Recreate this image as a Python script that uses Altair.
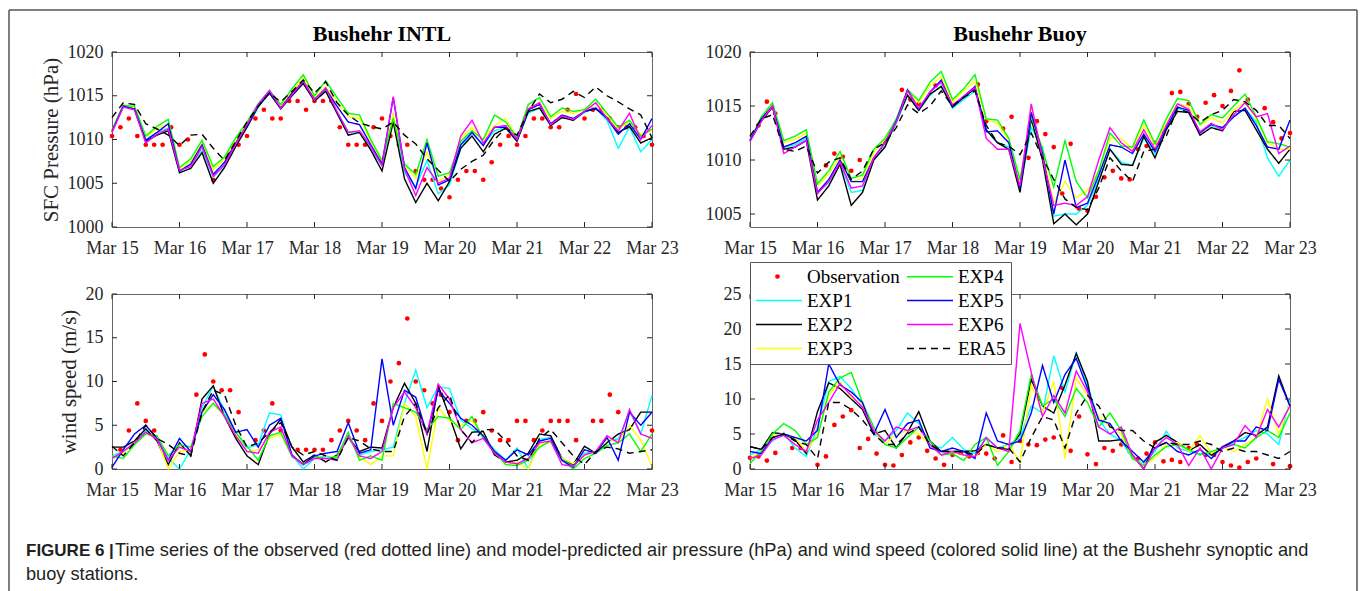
import json
import altair as alt
import pandas as pd

SERIF = "Liberation Serif"
SANS = "Liberation Sans"
AXIS_COLOR = "#262626"

# ---------------- labels / ticks ----------------
DAY_LABELS = ["Mar 15", "Mar 16", "Mar 17", "Mar 18", "Mar 19", "Mar 20", "Mar 21", "Mar 22", "Mar 23"]
DAY_TICKS = [0, 1, 2, 3, 4, 5, 6, 7, 8]
INTL_P_TICKS = [1000, 1005, 1010, 1015, 1020]
BUOY_P_TICKS = [1005, 1010, 1015, 1020]
INTL_W_TICKS = [0, 5, 10, 15, 20]
BUOY_W_TICKS = [0, 5, 10, 15, 20, 25]
INTL_P_DOMAIN = [1000, 1020]
BUOY_P_DOMAIN = [1003.8, 1020]
INTL_W_DOMAIN = [0, 20]
BUOY_W_DOMAIN = [0, 25]
MODEL_STEP_H = 4   # model output every 4 h from Mar 15 00:00
OBS_STEP_H = 3     # observations every 3 h from Mar 15 00:00

SERIES = ["EXP1", "EXP2", "EXP3", "EXP4", "EXP5", "EXP6", "ERA5"]
SERIES_COLORS = ["#00ffff", "#000000", "#ffff00", "#00ff00", "#0000ff", "#ff00ff", "#000000"]
OBS_NAME = "Observation"
OBS_COLOR = "#ff0000"
LEGEND_ORDER = ["Observation", "EXP1", "EXP2", "EXP3", "EXP4", "EXP5", "EXP6", "ERA5"]
LEGEND_DASH = {"ERA5": [7, 5]}

TITLE_LEFT = "Bushehr INTL"
TITLE_RIGHT = "Bushehr Buoy"
YTITLE_TOP = "SFC Pressure (hPa)"
YTITLE_BOTTOM = "wind speed (m/s)"
CAPTION_PREFIX = "FIGURE 6 |"
CAPTION_LINE1 = ("Time series of the observed (red dotted line) and model-predicted air pressure (hPa) "
                 "and wind speed (colored solid line) at the Bushehr synoptic and")
CAPTION_LINE2 = "buoy stations."

# ---------------- Bushehr INTL pressure (hPa) ----------------
INTL_P_EXP1 = [1011.0, 1013.7, 1013.5, 1010.0, 1010.8, 1011.3,
               1006.4, 1007.0, 1008.8, 1005.7, 1007.0, 1009.4,
               1011.4, 1013.7, 1015.3, 1013.6, 1015.1, 1016.4,
               1014.5, 1015.6, 1013.2, 1010.9, 1010.8, 1009.0,
               1007.0, 1012.6, 1006.2, 1004.6, 1007.6, 1003.8,
               1004.8, 1009.0, 1010.8, 1009.4, 1011.0, 1011.4,
               1009.9, 1013.0, 1013.6, 1011.6, 1012.6, 1012.2,
               1013.1, 1013.6, 1012.2, 1009.0, 1011.4, 1008.6,
               1010.0]
INTL_P_EXP2 = [1011.0, 1013.9, 1013.4, 1009.8, 1010.5, 1011.0,
               1006.2, 1006.7, 1008.5, 1005.0, 1006.8, 1009.2,
               1011.4, 1013.8, 1015.3, 1013.5, 1015.0, 1016.4,
               1014.4, 1015.5, 1013.0, 1010.5, 1010.8, 1008.8,
               1006.4, 1012.0, 1005.5, 1002.8, 1005.0, 1003.0,
               1005.2, 1009.0, 1010.4, 1008.6, 1010.6, 1011.3,
               1009.8, 1013.2, 1013.6, 1011.6, 1012.5, 1012.2,
               1013.2, 1013.5, 1012.5, 1010.8, 1011.5, 1009.6,
               1010.2]
INTL_P_EXP3 = [1011.0, 1013.8, 1013.7, 1010.3, 1011.2, 1011.8,
               1006.7, 1007.5, 1009.5, 1006.5, 1007.8, 1010.0,
               1011.8, 1014.0, 1015.5, 1013.9, 1015.5, 1017.0,
               1014.8, 1016.0, 1014.3, 1012.6, 1012.4, 1009.8,
               1007.5, 1013.0, 1007.0, 1005.6, 1008.5, 1005.2,
               1006.0, 1010.2, 1011.4, 1010.0, 1011.6, 1012.4,
               1010.2, 1013.6, 1014.2, 1012.4, 1013.2, 1013.0,
               1013.4, 1014.2, 1012.8, 1011.2, 1012.0, 1010.6,
               1011.0]
INTL_P_EXP4 = [1011.0, 1013.9, 1013.8, 1010.4, 1011.5, 1012.3,
               1006.8, 1007.8, 1009.9, 1006.9, 1008.0, 1010.2,
               1012.0, 1014.1, 1015.6, 1014.0, 1015.8, 1017.4,
               1015.0, 1016.7, 1014.8, 1013.0, 1012.8, 1010.0,
               1007.6, 1012.4, 1007.2, 1006.0, 1010.0, 1005.8,
               1006.2, 1009.8, 1011.0, 1010.0, 1012.8, 1012.0,
               1010.2, 1014.0, 1014.8, 1012.6, 1013.6, 1013.2,
               1013.4, 1014.6, 1013.0, 1011.4, 1012.2, 1010.4,
               1011.2]
INTL_P_EXP5 = [1010.9, 1013.8, 1013.5, 1009.9, 1010.8, 1011.8,
               1006.4, 1007.2, 1009.4, 1006.0, 1007.4, 1009.6,
               1011.6, 1013.9, 1015.4, 1013.6, 1015.3, 1016.6,
               1014.6, 1015.8, 1013.8, 1012.0, 1011.7, 1009.4,
               1007.2, 1014.8, 1006.8, 1004.4, 1009.6, 1004.8,
               1005.4, 1009.4, 1010.8, 1009.3, 1011.4, 1011.4,
               1010.0, 1013.4, 1014.0, 1011.8, 1012.8, 1012.4,
               1013.2, 1013.6, 1012.4, 1010.6, 1011.8, 1010.0,
               1012.4]
INTL_P_EXP6 = [1010.8, 1013.7, 1013.4, 1009.6, 1010.6, 1011.2,
               1006.5, 1006.9, 1009.2, 1005.8, 1007.1, 1009.5,
               1011.7, 1014.0, 1015.6, 1013.6, 1015.1, 1016.7,
               1014.5, 1015.9, 1013.2, 1010.8, 1011.0, 1009.2,
               1007.0, 1014.9, 1006.6, 1003.6, 1006.8, 1005.0,
               1005.6, 1010.4, 1012.2, 1009.6, 1011.4, 1011.6,
               1010.0, 1013.5, 1014.2, 1011.7, 1012.7, 1012.3,
               1013.2, 1014.2, 1012.4, 1011.0, 1013.0, 1010.0,
               1011.6]
INTL_P_ERA5 = [1012.5, 1014.2, 1014.0, 1011.8, 1011.2, 1010.5,
               1009.3, 1010.5, 1010.6, 1009.0, 1007.6, 1009.8,
               1012.0, 1013.8, 1015.3, 1014.3, 1015.5, 1016.8,
               1015.3, 1016.6, 1014.2, 1012.8, 1011.9, 1011.5,
               1011.2, 1012.0, 1010.5, 1009.5, 1007.8, 1006.5,
               1005.2, 1006.6, 1007.5, 1008.2, 1010.0, 1011.3,
               1010.5, 1013.2, 1015.2, 1014.2, 1014.6, 1015.5,
               1014.8, 1016.0, 1015.0, 1014.3, 1013.5, 1012.8,
               1010.2]
INTL_P_OBS = [1010.4, 1011.4, 1012.4, 1010.4, 1009.4, 1009.4, 1009.4, 1011.4,
              1009.4, 1010.0, None, 1008.4, 1005.4, None, 1008.4, 1009.4,
              1010.4, 1012.4, 1013.4, 1012.4, 1012.4, 1014.4, 1014.4, 1013.4,
              1014.4, 1014.4, 1014.4, 1011.4, 1009.4, 1009.4, 1009.4, 1011.4,
              1012.4, 1010.4, 1009.4, 1009.4, 1006.4, 1005.4, 1005.4, 1004.4,
              1003.4, 1005.4, 1006.4, 1006.4, 1005.4, 1007.4, 1009.4, 1010.4,
              1009.4, 1010.4, 1012.4, 1012.4, 1011.4, 1011.4, 1013.4, 1015.2,
              1012.4, 1013.4, 1013.4, 1012.4, 1011.4, 1011.4, 1011.4, 1010.4,
              1009.4]

# ---------------- Bushehr Buoy pressure (hPa) ----------------
BUOY_P_EXP1 = [1011.8, 1013.6, 1015.0, 1011.2, 1011.4, 1012.0,
               1007.0, 1007.9, 1009.7, 1007.0, 1007.2, 1010.0,
               1011.3, 1013.4, 1016.0, 1014.6, 1016.0, 1016.9,
               1014.8, 1015.6, 1016.4, 1012.8, 1011.6, 1011.2,
               1007.4, 1013.0, 1011.2, 1004.8, 1005.0, 1005.0,
               1005.8, 1008.2, 1011.0, 1009.8, 1009.5, 1012.0,
               1010.6, 1012.9, 1014.8, 1014.4, 1012.6, 1013.2,
               1012.8, 1014.0, 1014.8, 1013.5, 1010.2, 1008.5,
               1010.0]
BUOY_P_EXP2 = [1011.8, 1013.6, 1014.9, 1011.0, 1011.2, 1011.8,
               1006.3, 1007.6, 1009.6, 1005.8, 1007.0, 1010.0,
               1011.2, 1013.6, 1016.0, 1014.6, 1016.1, 1016.8,
               1014.9, 1015.8, 1016.6, 1012.8, 1011.6, 1011.0,
               1007.0, 1013.8, 1010.0, 1004.1, 1005.0, 1004.0,
               1005.0, 1008.0, 1011.0, 1009.6, 1009.5, 1012.2,
               1010.2, 1012.8, 1014.5, 1014.4, 1012.3, 1013.0,
               1012.7, 1014.5, 1014.6, 1012.8, 1011.0, 1009.7,
               1011.0]
BUOY_P_EXP3 = [1011.8, 1013.9, 1015.1, 1011.6, 1011.9, 1012.5,
               1007.6, 1008.7, 1010.3, 1008.0, 1008.3, 1010.7,
               1011.9, 1013.7, 1016.4, 1015.3, 1016.9, 1017.7,
               1015.4, 1016.4, 1017.3, 1013.8, 1013.4, 1011.8,
               1008.0, 1014.7, 1010.8, 1006.0, 1008.0, 1006.5,
               1007.2, 1009.0, 1012.0, 1012.0, 1011.0, 1013.2,
               1011.4, 1013.4, 1015.2, 1015.0, 1013.2, 1013.9,
               1013.4, 1014.6, 1015.4, 1013.8, 1011.6, 1011.0,
               1011.0]
BUOY_P_EXP4 = [1011.8, 1014.0, 1015.3, 1011.8, 1012.2, 1012.8,
               1007.8, 1009.0, 1010.8, 1008.3, 1008.6, 1011.0,
               1012.0, 1013.8, 1016.5, 1015.5, 1017.2, 1018.2,
               1015.6, 1016.6, 1017.9, 1013.8, 1013.7, 1012.0,
               1008.2, 1014.0, 1011.0, 1007.5, 1011.8, 1008.0,
               1006.5, 1009.0, 1012.5, 1011.3, 1011.2, 1013.7,
               1011.5, 1013.8, 1015.7, 1015.5, 1013.3, 1014.2,
               1013.9, 1015.0, 1016.1, 1014.0, 1011.7, 1011.5,
               1011.2]
BUOY_P_EXP5 = [1011.8, 1013.8, 1015.0, 1011.2, 1011.6, 1012.2,
               1007.0, 1008.2, 1010.0, 1008.0, 1008.0, 1010.2,
               1011.6, 1013.6, 1016.5, 1014.7, 1016.3, 1017.4,
               1015.0, 1015.9, 1016.8, 1012.6, 1012.7, 1011.6,
               1007.4, 1014.4, 1010.6, 1005.0, 1010.0, 1005.6,
               1006.0, 1008.6, 1011.4, 1011.2, 1010.6, 1012.4,
               1010.8, 1013.0, 1014.9, 1014.6, 1012.5, 1013.3,
               1013.0, 1014.0, 1014.8, 1013.2, 1011.2, 1011.0,
               1013.7]
BUOY_P_EXP6 = [1011.7, 1013.6, 1015.0, 1010.6, 1011.2, 1011.8,
               1006.9, 1008.0, 1009.8, 1007.4, 1007.6, 1010.2,
               1011.6, 1013.5, 1016.4, 1014.8, 1016.3, 1017.2,
               1015.1, 1015.9, 1016.7, 1012.0, 1011.0, 1011.0,
               1007.6, 1015.2, 1010.2, 1005.8, 1006.0, 1005.8,
               1006.6, 1010.0, 1013.0, 1011.6, 1010.8, 1012.8,
               1011.0, 1013.2, 1015.2, 1014.7, 1012.6, 1013.4,
               1012.8, 1014.2, 1015.3, 1014.0, 1014.3, 1010.6,
               1011.3]
BUOY_P_ERA5 = [1012.2, 1013.8, 1014.2, 1011.0, 1010.8, 1011.3,
               1008.8, 1009.8, 1010.2, 1008.2, 1009.0, 1011.0,
               1011.6, 1013.0, 1015.1, 1014.3, 1015.0, 1016.4,
               1015.0, 1015.8, 1016.4, 1013.2, 1011.6, 1011.3,
               1010.5, 1012.5, 1010.2, 1008.2, 1006.4, 1005.6,
               1005.4, 1007.4, 1010.2, 1009.0, 1008.0, 1010.8,
               1011.0, 1012.2, 1014.8, 1014.4, 1013.5, 1014.2,
               1014.6, 1015.6, 1015.4, 1014.6, 1013.2, 1013.2,
               1012.0]
BUOY_P_OBS = [None, 1013.2, 1015.4, 1014.3, None, None, None, None,
              None, 1009.5, 1010.6, 1010.3, 1009.0, 1010.0, None, None,
              1011.7, None, 1016.5, 1015.6, 1015.2, None, 1016.9, None,
              None, None, None, 1017.0, 1013.6, None, 1012.9, 1014.0,
              None, 1010.2, 1013.6, 1012.4, 1011.2, 1006.9, 1011.5, 1005.5,
              1005.3, 1006.6, 1008.4, 1009.0, 1008.3, 1008.2, 1011.0, 1011.3,
              1011.6, 1012.6, 1016.2, 1016.3, 1015.2, 1014.0, 1015.3, 1016.0,
              1015.0, 1016.4, 1018.3, 1015.6, None, 1014.8, 1013.5, 1012.0,
              1012.5]

# ---------------- Bushehr INTL wind speed (m/s) ----------------
INTL_W_EXP1 = [1.5, 2.0, 3.0, 4.4, 3.4, 1.2,
               0.0, 2.2, 7.0, 9.5, 6.6, 4.0,
               2.4, 2.8, 6.4, 6.2, 1.6, 0.0,
               1.2, 1.5, 1.2, 3.6, 1.6, 2.0,
               2.2, 2.5, 7.5, 11.3, 7.0, 9.4,
               9.2, 5.6, 4.6, 3.8, 2.2, 1.0,
               2.4, 0.0, 3.4, 3.6, 1.2, 0.3,
               1.8, 2.0, 3.4, 3.4, 6.6, 4.0,
               8.4]
INTL_W_EXP2 = [2.5, 2.5, 3.2, 4.6, 3.2, 0.5,
               3.0, 1.5, 8.0, 9.5, 6.0, 3.5,
               1.5, 0.5, 4.0, 5.7, 2.5, 0.8,
               1.6, 0.8, 1.6, 3.6, 2.0, 2.5,
               2.4, 7.0, 9.8, 7.5, 2.0, 9.5,
               6.0, 2.3, 4.2, 4.3, 1.6, 0.8,
               1.0, 1.8, 4.0, 3.8, 1.2, 0.5,
               2.6, 1.8, 3.0, 4.0, 4.5, 6.5,
               6.5]
INTL_W_EXP3 = [1.2, 1.8, 3.0, 4.0, 3.5, 0.0,
               2.0, 2.2, 6.5, 7.5, 6.0, 4.0,
               2.0, 2.2, 3.5, 4.0, 1.5, 0.5,
               1.4, 1.2, 1.4, 3.8, 1.4, 0.5,
               1.5, 1.5, 7.5, 6.0, 0.0, 7.0,
               5.5, 5.0, 5.5, 3.8, 2.0, 0.5,
               0.8, 0.0, 2.8, 3.0, 1.2, 0.6,
               1.6, 2.0, 3.4, 3.2, 5.0, 3.3,
               0.3]
INTL_W_EXP4 = [1.5, 1.2, 2.8, 4.0, 3.8, 1.5,
               2.8, 2.5, 6.0, 7.5, 6.2, 4.2,
               2.6, 1.0, 3.8, 4.2, 1.4, 0.6,
               1.4, 1.2, 1.4, 4.2, 1.0, 1.5,
               1.0, 7.5, 7.0, 6.5, 4.5, 6.0,
               5.8, 4.5, 6.0, 3.5, 2.0, 0.5,
               0.4, 1.0, 2.5, 3.2, 1.0, 0.0,
               1.2, 1.8, 2.7, 3.0, 4.0, 2.0,
               4.0]
INTL_W_EXP5 = [0.2, 2.2, 4.0, 5.0, 3.5, 1.0,
               3.5, 2.0, 6.5, 8.5, 6.8, 4.2,
               4.5, 2.5, 5.0, 5.8, 1.6, 0.5,
               1.5, 1.8, 2.0, 5.3, 1.8, 2.2,
               12.6, 5.0, 9.0, 8.2, 4.0, 9.0,
               7.5, 5.8, 5.0, 3.8, 2.0, 1.0,
               2.2, 1.6, 3.2, 3.5, 1.0, 0.2,
               2.2, 1.8, 3.6, 1.0, 6.5, 5.0,
               6.5]
INTL_W_EXP6 = [1.2, 2.0, 3.0, 4.2, 3.4, 1.0,
               2.5, 2.0, 7.5, 8.0, 6.0, 3.8,
               2.0, 1.8, 4.2, 4.8, 1.5, 0.5,
               1.2, 1.2, 1.0, 3.8, 1.5, 1.2,
               2.0, 7.0, 8.8, 7.0, 4.0, 9.7,
               8.0, 4.5, 3.0, 3.5, 1.8, 0.8,
               0.6, 1.2, 3.0, 3.2, 0.5, 0.3,
               1.6, 2.0, 3.8, 3.0, 6.8, 4.0,
               3.5]
INTL_W_ERA5 = [2.6, 1.5, 3.0, 5.0, 3.5, 2.8,
               1.8, 1.5, 6.5, 9.0, 8.5, 5.0,
               2.5, 3.0, 4.2, 5.3, 2.5, 1.6,
               2.0, 1.5, 1.0, 3.6, 3.2, 2.3,
               2.0, 2.0, 6.0, 7.5, 4.0, 7.0,
               8.5, 4.5, 3.0, 4.5, 4.5, 3.2,
               1.5, 1.0, 3.5, 4.5, 3.0, 1.5,
               0.5, 2.0, 2.5, 2.3, 1.8, 2.0,
               2.2]
INTL_W_OBS = [None, 2.2, 4.4, 7.5, 5.5, 4.4, None, None,
              None, None, 8.5, 13.1, 10.0, 9.0, 9.0, 6.5,
              None, 3.3, 4.4, 7.5, 4.4, None, 2.2, 2.2,
              2.2, 2.2, 3.3, 4.4, 5.5, 4.4, 3.3, 7.5,
              5.5, 10.0, 12.1, 17.2, 10.0, 9.0, 7.5, 8.5,
              6.5, 3.3, 5.5, 5.5, 6.5, 4.4, 3.3, 3.3,
              5.5, 5.5, 3.3, 4.4, 5.5, 5.5, 5.5, 3.3,
              None, 5.5, 5.5, 8.5, 6.5, None, None, None,
              4.4]

# ---------------- Bushehr Buoy wind speed (m/s) ----------------
BUOY_W_EXP1 = [2.0, 2.8, 4.0, 5.2, 3.0, 1.8,
               6.0, 12.5, 13.2, 11.5, 9.0, 5.0,
               4.0, 5.5, 8.0, 6.5, 3.5, 3.0,
               4.5, 2.8, 2.2, 4.5, 3.0, 3.5,
               4.5, 9.0, 8.0, 16.2, 11.0, 16.6,
               12.0, 7.0, 5.0, 4.0, 1.5, 0.8,
               2.5, 5.4, 3.0, 2.5, 2.2, 2.0,
               3.0, 3.8, 4.5, 5.5, 5.0, 3.5,
               10.0]
BUOY_W_EXP2 = [3.2, 2.8, 5.2, 5.0, 4.2, 2.2,
               8.2, 12.3, 11.5, 10.0, 8.5, 5.0,
               5.5, 3.0, 5.2, 8.2, 4.0, 2.5,
               2.5, 2.5, 2.6, 3.5, 3.0, 2.8,
               5.0, 12.8, 9.0, 8.0, 12.0, 16.5,
               12.5, 4.0, 4.0, 4.2, 2.0, 0.0,
               3.8, 4.8, 3.8, 2.6, 3.5, 2.0,
               3.0, 4.0, 5.2, 4.8, 6.0, 13.3,
               9.0]
BUOY_W_EXP3 = [1.5, 2.5, 4.8, 5.0, 4.5, 2.5,
               5.0, 10.5, 12.5, 10.2, 9.2, 5.5,
               3.5, 5.0, 5.5, 5.0, 3.5, 2.0,
               2.5, 2.0, 1.8, 3.5, 2.5, 3.5,
               1.0, 12.0, 8.0, 12.5, 1.5, 13.0,
               10.5, 7.5, 6.0, 5.0, 1.5, 0.6,
               1.5, 3.5, 3.8, 2.5, 4.8, 2.2,
               3.2, 2.5, 3.5, 4.5, 10.0, 5.0,
               9.5]
BUOY_W_EXP4 = [0.8, 2.5, 5.0, 6.5, 5.5, 3.5,
               4.5, 11.0, 13.0, 13.8, 9.5, 6.0,
               3.5, 3.0, 4.5, 6.0, 4.0, 2.0,
               2.2, 1.2, 3.5, 4.5, 0.5, 2.5,
               5.5, 13.5, 9.0, 10.0, 7.5, 11.5,
               9.5, 6.0, 8.0, 5.5, 1.5, 0.5,
               2.0, 3.2, 3.5, 2.8, 2.0, 2.5,
               3.0, 3.5, 3.0, 4.5, 5.5, 4.5,
               8.0]
BUOY_W_EXP5 = [2.5, 2.2, 4.5, 5.0, 4.5, 4.0,
               5.5, 15.0, 12.0, 11.0, 9.5, 5.0,
               8.5, 4.5, 6.5, 7.0, 3.0, 2.5,
               3.0, 2.5, 1.5, 8.0, 4.0, 3.5,
               4.0, 8.0, 14.8, 9.5, 13.5, 15.8,
               11.5, 7.0, 6.5, 4.0, 2.5, 1.0,
               3.0, 3.8, 2.5, 2.0, 2.8, 1.5,
               3.2, 4.0, 4.0, 6.0, 5.5, 12.8,
               9.0]
BUOY_W_EXP6 = [1.5, 2.0, 4.2, 4.8, 3.5, 2.5,
               7.0, 9.5, 12.2, 10.5, 8.8, 5.5,
               4.0, 6.0, 5.5, 6.0, 3.5, 2.0,
               2.5, 2.0, 1.8, 4.5, 3.0, 2.5,
               20.8, 13.8, 7.5, 10.5, 8.0, 14.0,
               11.0, 6.0, 5.0, 6.0, 2.0, 0.0,
               3.0, 4.5, 3.5, 0.5, 3.0, 0.0,
               3.0, 3.5, 6.2, 4.5, 8.5, 6.0,
               9.0]
BUOY_W_ERA5 = [3.2, 2.8, 4.5, 5.0, 4.0, 3.5,
               1.5, 9.5, 9.5, 8.5, 7.0, 5.0,
               3.5, 3.5, 5.0, 6.0, 3.5, 2.5,
               2.5, 2.5, 2.0, 3.5, 3.0, 3.0,
               1.0, 4.5, 7.5, 7.0, 3.0, 8.0,
               10.5, 9.0, 6.0, 5.5, 5.5, 4.0,
               3.0, 3.8, 3.5, 3.5, 4.0, 3.5,
               2.5, 3.0, 2.5, 2.5, 2.0, 1.5,
               2.5]
BUOY_W_OBS = [1.6, 1.8, 1.2, 2.3, None, 3.0, 3.0, None,
              0.6, 1.8, 6.3, 7.5, 8.4, 3.0, 4.3, 2.2,
              0.6, 0.5, 2.0, 3.8, 4.5, 2.6, 1.5, 0.6,
              2.0, 2.3, 1.8, 2.3, 2.2, 1.5, 4.8, 1.0,
              4.0, 3.5, 3.4, 4.2, 4.5, 11.6, 2.6, 7.5,
              2.1, 0.7, 3.0, 2.6, 3.5, 2.5, 1.5, 2.2,
              3.8, 1.1, 1.3, 1.0, 3.0, 3.5, 2.0, 2.0,
              1.0, 0.5, 0.2, 1.0, 1.5, None, 0.7, None,
              0.4]

# ---------------- layout (pixels) ----------------
PANEL_W = 540
PANEL_H = 175


def model_frame(lists):
    rows = []
    for name, vals in zip(SERIES, lists):
        for i, v in enumerate(vals):
            rows.append({"t": i * MODEL_STEP_H / 24.0, "v": v, "s": name})
    return pd.DataFrame(rows)


def obs_frame(vals):
    rows = [{"t": i * OBS_STEP_H / 24.0, "v": v, "o": OBS_NAME} for i, v in enumerate(vals) if v is not None]
    return pd.DataFrame(rows)


label_expr = json.dumps(DAY_LABELS) + "[datum.value]"
color_map = dict(zip(SERIES, SERIES_COLORS))
# the line legend keeps an invisible slot for the observation entry; its dot comes from the fill legend
color_map[OBS_NAME] = "#ffffff"
color_scale = alt.Scale(domain=LEGEND_ORDER, range=[color_map[s] for s in LEGEND_ORDER])
dash_scale = alt.Scale(domain=LEGEND_ORDER, range=[LEGEND_DASH.get(s, [1, 0]) for s in LEGEND_ORDER])
obs_fill_scale = alt.Scale(domain=[OBS_NAME], range=[OBS_COLOR])

LINE_LEGEND = dict(
    title=None, orient="none", legendX=0, legendY=-32, columns=2,
    symbolType="stroke", symbolSize=2116, symbolStrokeWidth=1.5,
    labelFont=SERIF, labelFontSize=19, labelColor="#000000", labelOffset=4,
    rowPadding=4, columnPadding=6, padding=5, clipHeight=19,
    strokeColor="#555555", fillColor="#ffffff", zindex=1,
)
DOT_LEGEND = dict(
    title=None, orient="none", legendX=18, legendY=-27,
    symbolType="circle", symbolSize=22, symbolStrokeWidth=0,
    labelFont=SERIF, labelFontSize=19, labelExpr="''", padding=0, zindex=2,
)


def panel(lists, obs, ydom, yticks, title=None, ytitle=None, legend=False, extras=()):
    W, H = PANEL_W, PANEL_H
    x = alt.X("t:Q", scale=alt.Scale(domain=[0, 8], nice=False, zero=False),
              axis=alt.Axis(values=DAY_TICKS, labelExpr=label_expr, ticks=False, tickSize=0,
                            domain=False, grid=False, labelPadding=12, labelOverlap=False,
                            labelFlush=False, title=None))
    yaxis_kw = dict(values=yticks, format="d", ticks=False, tickSize=0, domain=False, grid=False,
                    labelPadding=9, labelOverlap=False, labelFlush=False)
    if ytitle:
        yaxis_kw.update(title=ytitle, titlePadding=6)
    else:
        yaxis_kw.update(title=None)
    y = alt.Y("v:Q", scale=alt.Scale(domain=ydom, nice=False, zero=False), axis=alt.Axis(**yaxis_kw))

    obs_layer = alt.Chart(obs_frame(obs)).mark_circle(size=22, opacity=1).encode(
        x=x, y=y,
        fill=alt.Fill("o:N", scale=obs_fill_scale,
                      legend=alt.Legend(**DOT_LEGEND) if legend else None),
    )
    line_legend = alt.Legend(**LINE_LEGEND) if legend else None
    line_layer = alt.Chart(model_frame(lists)).mark_line(strokeWidth=1.4).encode(
        x=x, y=y,
        color=alt.Color("s:N", scale=color_scale, legend=line_legend),
        strokeDash=alt.StrokeDash("s:N", scale=dash_scale, legend=line_legend),
    )
    tick_x = pd.DataFrame({"t": DAY_TICKS})
    tick_y = pd.DataFrame({"v": yticks})
    xt_b = alt.Chart(tick_x).mark_rule(color=AXIS_COLOR, strokeWidth=1).encode(x=x, y=alt.value(H), y2=alt.value(H - 5))
    xt_t = alt.Chart(tick_x).mark_rule(color=AXIS_COLOR, strokeWidth=1).encode(x=x, y=alt.value(0), y2=alt.value(5))
    yt_l = alt.Chart(tick_y).mark_rule(color=AXIS_COLOR, strokeWidth=1).encode(y=y, x=alt.value(0), x2=alt.value(5))
    yt_r = alt.Chart(tick_y).mark_rule(color=AXIS_COLOR, strokeWidth=1).encode(y=y, x=alt.value(W - 5), x2=alt.value(W))
    layers = [obs_layer, line_layer, xt_b, xt_t, yt_l, yt_r] + list(extras)
    props = dict(width=W, height=H)
    if title:
        props["title"] = alt.TitleParams(title, font=SERIF, fontSize=22, fontWeight="bold", color="#000000",
                                         anchor="middle", frame="group", offset=-3)
    return alt.layer(*layers).properties(**props)


one = pd.DataFrame({"k": [0]})
# outer figure frame (left, top, right) and caption, drawn relative to the bottom-left panel
FRAME_COLOR = "#555555"
bottom_left_extras = [
    alt.Chart(one).mark_rule(color=FRAME_COLOR, strokeWidth=1.5).encode(
        x=alt.value(-103), y=alt.value(-284), y2=alt.value(297)),
    alt.Chart(one).mark_rule(color=FRAME_COLOR, strokeWidth=1.5).encode(
        x=alt.value(-103), x2=alt.value(1245), y=alt.value(-284)),
    alt.Chart(one).mark_rule(color=FRAME_COLOR, strokeWidth=1.5).encode(
        x=alt.value(1245), y=alt.value(-284), y2=alt.value(297)),
    alt.Chart(one).mark_text(text=CAPTION_PREFIX, font=SANS, fontSize=17, fontWeight="bold",
                             color="#231f20", align="left", baseline="alphabetic").encode(
        x=alt.value(-86), y=alt.value(262)),
    alt.Chart(one).mark_text(text=CAPTION_LINE1, font=SANS, fontSize=18.2,
                             color="#231f20", align="left", baseline="alphabetic").encode(
        x=alt.value(3), y=alt.value(262)),
    alt.Chart(one).mark_text(text=CAPTION_LINE2, font=SANS, fontSize=18.2,
                             color="#231f20", align="left", baseline="alphabetic").encode(
        x=alt.value(-86), y=alt.value(286)),
]

p1 = panel([INTL_P_EXP1, INTL_P_EXP2, INTL_P_EXP3, INTL_P_EXP4, INTL_P_EXP5, INTL_P_EXP6, INTL_P_ERA5],
           INTL_P_OBS, INTL_P_DOMAIN, INTL_P_TICKS, title=TITLE_LEFT, ytitle=YTITLE_TOP)
p2 = panel([BUOY_P_EXP1, BUOY_P_EXP2, BUOY_P_EXP3, BUOY_P_EXP4, BUOY_P_EXP5, BUOY_P_EXP6, BUOY_P_ERA5],
           BUOY_P_OBS, BUOY_P_DOMAIN, BUOY_P_TICKS, title=TITLE_RIGHT)
p3 = panel([INTL_W_EXP1, INTL_W_EXP2, INTL_W_EXP3, INTL_W_EXP4, INTL_W_EXP5, INTL_W_EXP6, INTL_W_ERA5],
           INTL_W_OBS, INTL_W_DOMAIN, INTL_W_TICKS, ytitle=YTITLE_BOTTOM, extras=bottom_left_extras)
p4 = panel([BUOY_W_EXP1, BUOY_W_EXP2, BUOY_W_EXP3, BUOY_W_EXP4, BUOY_W_EXP5, BUOY_W_EXP6, BUOY_W_ERA5],
           BUOY_W_OBS, BUOY_W_DOMAIN, BUOY_W_TICKS, legend=True)

chart = alt.concat(
    p1, p2, p3, p4, columns=2, spacing={"row": 67, "column": 98}, bounds="flush"
).resolve_scale(
    color="independent", strokeDash="independent", fill="independent"
).resolve_legend(
    color="independent", strokeDash="independent", fill="independent"
).properties(
    padding={"left": 7, "top": 8, "right": 0, "bottom": 0}, background="#ffffff"
).configure_view(
    stroke="#666666", strokeWidth=1
).configure_axis(
    labelFont=SERIF, labelFontSize=18, labelColor=AXIS_COLOR,
    titleFont=SERIF, titleFontSize=21, titleFontWeight="normal", titleColor=AXIS_COLOR
)

chart.save("out.html", embed_options={"renderer": "svg", "actions": False})
